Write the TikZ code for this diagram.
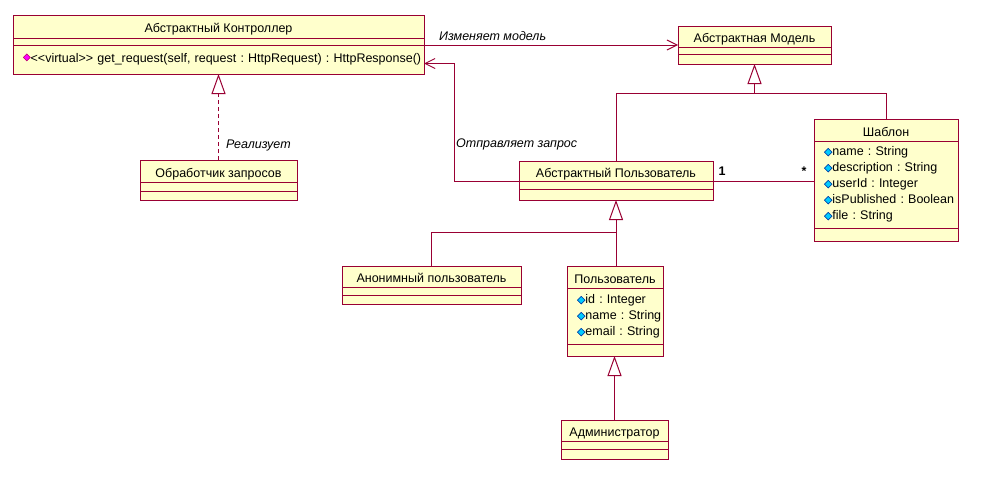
\documentclass[tikz,border=0pt]{standalone}
\usepackage{fontspec}
\setmainfont{Liberation Sans}
\newfontfamily\symfont{DejaVu Sans}
\usetikzlibrary{arrows.meta,positioning}

\definecolor{umlred}{RGB}{153,0,51}
\definecolor{umlfill}{RGB}{255,255,204}
\definecolor{attrcyan}{RGB}{0,204,255}
\definecolor{attrblue}{RGB}{0,0,128}
\definecolor{opmagenta}{RGB}{255,0,255}

\frenchspacing
\newcommand{\umlfont}{\fontsize{12.5}{16}\selectfont}
\newcommand{\attrmark}{\leavevmode{\symfont\fontsize{11}{11}\selectfont\rlap{\textcolor{attrcyan}{◆}}\textcolor{attrblue}{◇}}}
\newcommand{\opmark}{\leavevmode\raisebox{2pt}{\symfont\fontsize{10}{10}\selectfont\rlap{\textcolor{opmagenta}{◆}}\textcolor{umlred}{◇}}}
\newcommand{\attr}[1]{\mbox{\attrmark #1}}

\begin{document}
\begin{tikzpicture}[
  x=1pt, y=-1pt, font=\umlfont,
  box/.style={draw=umlred, fill=umlfill, line width=1pt, outer sep=0pt, inner sep=0pt},
  title/.style={box, anchor=north west, minimum height=21pt, text height=12pt, text depth=0pt},
  part/.style={box, align=left},
  line/.style={draw=umlred, line width=1pt},
  navarrow/.style={line, -{Straight Barb[length=10pt, width=10pt]}},
  inherit/.style={line, -{Triangle[open, length=20pt, width=14pt]}},
  realize/.style={inherit, dash pattern=on 4pt off 3pt},
  lbl/.style={font=\umlfont\itshape, inner sep=0pt},
  mult/.style={font=\umlfont\bfseries, inner sep=0pt}]
\useasboundingbox (0,0) rectangle (981,482);

% classes
\node[title, minimum width=411pt, minimum height=23pt] (ctrl) at (13,15) {Абстрактный Контроллер};
\node[part, minimum width=411pt, minimum height=7pt, below=0pt of ctrl] (ctrl-attr) {};
\node[part, minimum width=411pt, minimum height=29pt, text width=391pt, below=0pt of ctrl-attr] (ctrl-op)
  {\mbox{\opmark\textless\kern0pt\textless virtual\textgreater\kern0pt\textgreater{} get\_request(self, request : HttpRequest) : HttpResponse()}};

\node[title, minimum width=153pt] (model) at (678,26) {Абстрактная Модель};
\node[part, minimum width=153pt, minimum height=7pt, below=0pt of model] (model-attr) {};
\node[part, minimum width=153pt, minimum height=10pt, below=0pt of model-attr] (model-op) {};

\node[title, minimum width=157pt, minimum height=22pt] (handler) at (140,160) {Обработчик запросов};
\node[part, minimum width=157pt, minimum height=9pt, below=0pt of handler] (handler-attr) {};
\node[part, minimum width=157pt, minimum height=9pt, below=0pt of handler-attr] (handler-op) {};

\node[title, minimum width=194pt, minimum height=20pt] (absuser) at (519,161) {Абстрактный Пользователь};
\node[part, minimum width=194pt, minimum height=8pt, below=0pt of absuser] (absuser-attr) {};
\node[part, minimum width=194pt, minimum height=11pt, below=0pt of absuser-attr] (absuser-op) {};

\node[title, minimum width=144pt, minimum height=22pt] (tmpl) at (814,119) {Шаблон};
\node[part, minimum width=144pt, minimum height=87pt, text width=124pt, below=0pt of tmpl] (tmpl-attr)
  {\attr{name : String}\\ \attr{description : String}\\ \attr{userId : Integer}\\
   \attr{isPublished : Boolean}\\ \attr{file : String}};
\node[part, minimum width=144pt, minimum height=13pt, below=0pt of tmpl-attr] (tmpl-op) {};

\node[title, minimum width=179pt] (anon) at (342,266) {Анонимный пользователь};
\node[part, minimum width=179pt, minimum height=8pt, below=0pt of anon] (anon-attr) {};
\node[part, minimum width=179pt, minimum height=9pt, below=0pt of anon-attr] (anon-op) {};

\node[title, minimum width=96pt, minimum height=22pt] (user) at (567,266) {Пользователь};
\node[part, minimum width=96pt, minimum height=56pt, text width=76pt, below=0pt of user] (user-attr)
  {\attr{id : Integer}\\ \attr{name : String}\\ \attr{email : String}};
\node[part, minimum width=96pt, minimum height=12pt, below=0pt of user-attr] (user-op) {};

\node[title, minimum width=107pt] (admin) at (561,420) {Администратор};
\node[part, minimum width=107pt, minimum height=8pt, below=0pt of admin] (admin-attr) {};
\node[part, minimum width=107pt, minimum height=10pt, below=0pt of admin-attr] (admin-op) {};

% connectors
\draw[navarrow] (ctrl-op.north east) -- node[lbl, pos=0.27, above=4pt] {Изменяет модель} (ctrl-op.north east -| model.west);

\coordinate (sendbend) at (454.5,63.5);
\draw[navarrow] (absuser-attr.north west) -| (sendbend) -- (sendbend -| ctrl-op.east);
\node[lbl, anchor=west] (sendlbl) at (456,144) {Отправляет запрос};

\draw[realize] (handler.north) -- node[lbl, pos=0.17, right=7pt] {Реализует} (handler.north |- ctrl-op.south);

\draw[line] (absuser-attr.north east) -- node[mult, pos=0, above right=5pt and 5pt] {1}
  node[mult, pos=1, above left=5pt and 7pt] {*} (absuser-attr.north east -| tmpl.west);

\coordinate[below=29.5pt of model-op] (modeljoin);
\draw[line] (absuser.north) |- (modeljoin) -| (tmpl.north);
\draw[inherit] (modeljoin) -- (model-op.south);

\coordinate[below=32.5pt of absuser-op] (userjoin);
\draw[line] (anon.north) |- (userjoin) -- (userjoin |- user.north);
\draw[inherit] (userjoin) -- (absuser-op.south);

\draw[inherit] (admin.north) -- (admin.north |- user-op.south);
\end{tikzpicture}
\end{document}
